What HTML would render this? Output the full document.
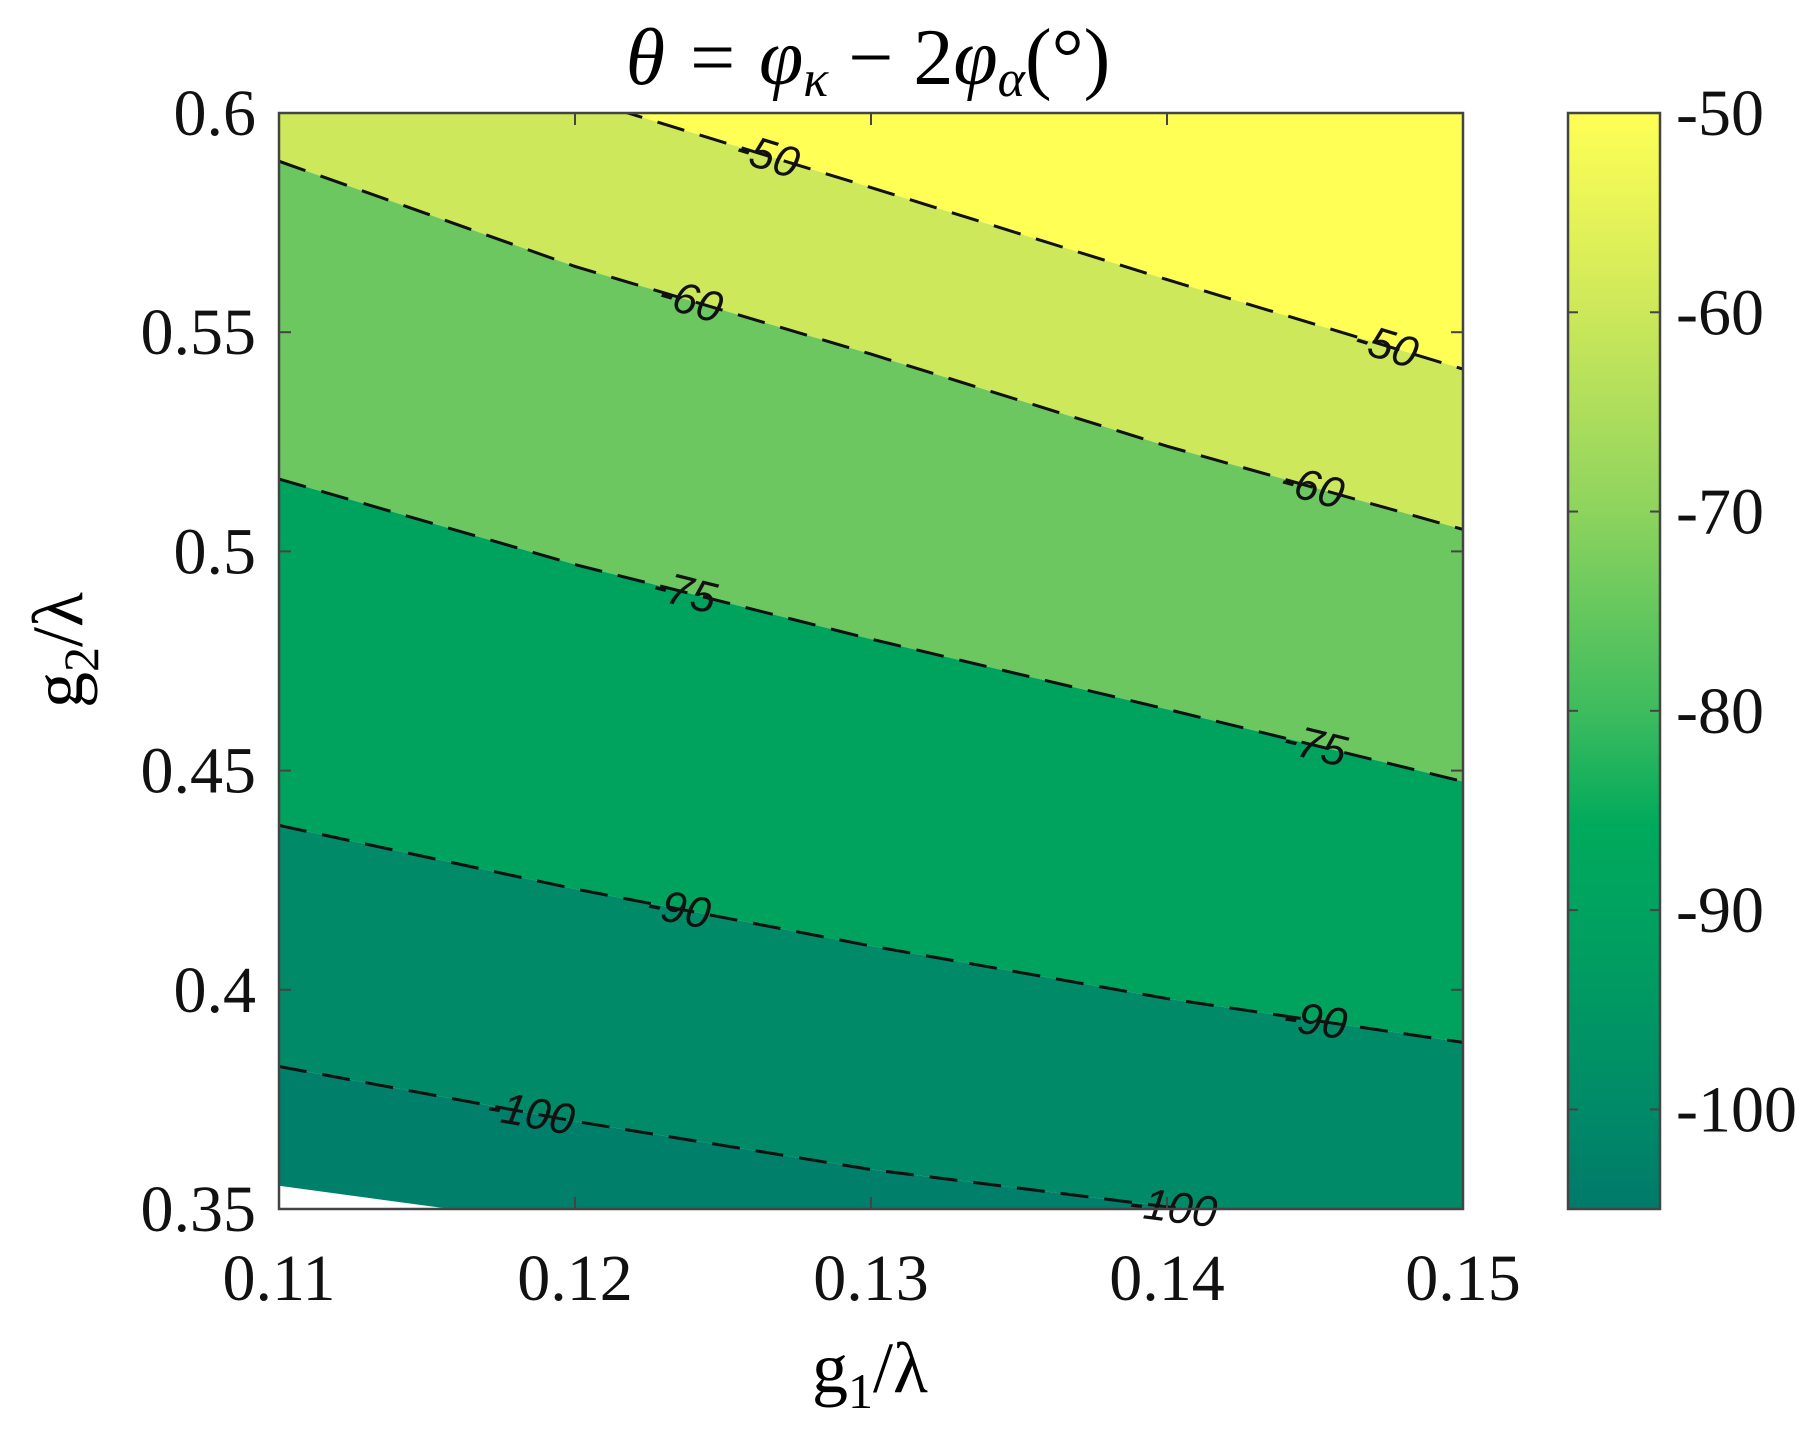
<!DOCTYPE html>
<html><head><meta charset="utf-8"><style>
html,body{margin:0;padding:0;background:#fff;}
svg{display:block;}
text{font-family:"Liberation Serif",serif;}
</style></head><body>
<svg id="chart" width="1813" height="1440" viewBox="0 0 1813 1440">
<defs>
<clipPath id="plotclip"><rect x="279" y="113" width="1184" height="1096"/></clipPath>
<linearGradient id="cbgrad" x1="0" y1="0" x2="0" y2="1">
<stop offset="0" stop-color="#ffff55"/>
<stop offset="0.18" stop-color="#cde85a"/>
<stop offset="0.36" stop-color="#8fd45e"/>
<stop offset="0.55" stop-color="#3cbb5e"/>
<stop offset="0.65" stop-color="#00aa5c"/>
<stop offset="0.75" stop-color="#00a060"/>
<stop offset="0.91" stop-color="#008a68"/>
<stop offset="1" stop-color="#007a6a"/>
</linearGradient>
</defs>
<g id="fills" clip-path="url(#plotclip)"></g>
<g id="lines" clip-path="url(#plotclip)"></g>
<g id="labels"></g>
<g id="axes"></g>
</svg>
<script>
const g1Grid = [0.11, 0.12, 0.13, 0.14, 0.15];
const levels = [-50, -60, -75, -90, -100];
const c50 = [0.6245, 0.6037, 0.583, 0.562, 0.5416];
const c60 = [0.589, 0.565, 0.545, 0.524, 0.505];
const c75 = [0.5165, 0.497, 0.480, 0.464, 0.4475];
const c90 = [0.4375, 0.423, 0.410, 0.398, 0.388];
const c100 = [0.3825, 0.370, 0.359, 0.3505, 0.342];
const boundaryG1 = [0.11, 0.1158];
const boundaryG2 = [0.3553, 0.35];
const regionColors = ['#ffff55', '#cde85a', '#6cc760', '#00a35e', '#008a68', '#00806a'];
const xTicks = [0.11, 0.12, 0.13, 0.14, 0.15];
const xTickLabels = ['0.11', '0.12', '0.13', '0.14', '0.15'];
const yTicks = [0.35, 0.4, 0.45, 0.5, 0.55, 0.6];
const yTickLabels = ['0.35', '0.4', '0.45', '0.5', '0.55', '0.6'];
const cbTicks = [-50, -60, -70, -80, -90, -100];
const cbTickLabels = ['-50', '-60', '-70', '-80', '-90', '-100'];
const labelG1 = [[0.1265, 0.1474], [0.1239, 0.1449], [0.1237, 0.145], [0.1235, 0.145], [0.1185, 0.1402]];

const X0 = 279, X1 = 1463, Y0 = 1209, Y1 = 113;
const xs = v => X0 + (v - 0.11) / 0.04 * (X1 - X0);
const ys = v => Y0 - (v - 0.35) / 0.25 * (Y0 - Y1);
const CB_X0 = 1568, CB_X1 = 1660;
const cbs = v => Y1 + (-50 - v) / 55 * (Y0 - Y1);
const NS = 'http://www.w3.org/2000/svg';
const contours = [c50, c60, c75, c90, c100];
function mk(tag, attrs, parent) {
  const e = document.createElementNS(NS, tag);
  for (const k in attrs) e.setAttribute(k, attrs[k]);
  parent.appendChild(e);
  return e;
}
function interp(arr, g) {
  for (let i = 0; i < g1Grid.length - 1; i++) {
    if (g <= g1Grid[i + 1]) {
      const t = (g - g1Grid[i]) / (g1Grid[i + 1] - g1Grid[i]);
      return arr[i] + t * (arr[i + 1] - arr[i]);
    }
  }
  return arr[arr.length - 1];
}
const pts = arr => g1Grid.map((g, i) => xs(g) + ',' + ys(arr[i]));
const fills = document.getElementById('fills');
const lines = document.getElementById('lines');
const labels = document.getElementById('labels');
const axes = document.getElementById('axes');

const botEdge = [xs(0.15) + ',' + (Y0 + 50), xs(0.11) + ',' + (Y0 + 50)];
for (let r = 0; r <= contours.length; r++) {
  const upper = r === 0 ? null : contours[r - 1];
  const lower = r === contours.length ? null : contours[r];
  let p = [];
  p = p.concat(upper ? pts(upper) : [xs(0.11) + ',' + (Y1 - 50), xs(0.15) + ',' + (Y1 - 50)]);
  p = p.concat(lower ? pts(lower).reverse() : botEdge);
  const poly = mk('polygon', {points: p.join(' '), fill: regionColors[r]}, fills);
  
  
}
const nd = mk('polygon', {points: [xs(boundaryG1[0]) + ',' + ys(boundaryG2[0]), xs(boundaryG1[1]) + ',' + ys(boundaryG2[1]), xs(0.11) + ',' + Y0].join(' '), fill: '#ffffff'}, fills);



contours.forEach((c, i) => {
  const pl = mk('polyline', {points: pts(c).join(' '), fill: 'none', stroke: '#111', 'stroke-width': 3, 'stroke-dasharray': '28,16'}, lines);
  
  
  labelG1[i].forEach((g, j) => {
    const x = xs(g), y = ys(interp(c, g));
    const y2 = ys(interp(c, g + 0.002));
    const ang = Math.atan2(y2 - y, xs(g + 0.002) - x) * 180 / Math.PI;
    const t = mk('text', {x: x, y: y, 'text-anchor': 'middle', 'dominant-baseline': 'central', 'font-size': 44, transform: 'rotate(' + ang + ' ' + x + ' ' + y + ')', fill: '#111', style: 'font-family:"Liberation Sans",sans-serif;font-style:italic'}, labels);
    t.textContent = levels[i];
    
    
  });
});

const fr = mk('rect', {x: X0, y: Y1, width: X1 - X0, height: Y0 - Y1, fill: 'none', stroke: '#444', 'stroke-width': 2.5}, axes);


xTicks.forEach((v, i) => {
  const x = xs(v);
  mk('line', {x1: x, y1: Y0, x2: x, y2: Y0 - 12, stroke: '#444', 'stroke-width': 2}, axes);
  mk('line', {x1: x, y1: Y1, x2: x, y2: Y1 + 12, stroke: '#444', 'stroke-width': 2}, axes);
  const t = mk('text', {x: x, y: 1300, 'text-anchor': 'middle', 'font-size': 66, fill: '#111'}, axes);
  t.textContent = xTickLabels[i];
  
  
});
yTicks.forEach((v, i) => {
  const y = ys(v);
  mk('line', {x1: X0, y1: y, x2: X0 + 12, y2: y, stroke: '#444', 'stroke-width': 2}, axes);
  mk('line', {x1: X1, y1: y, x2: X1 - 12, y2: y, stroke: '#444', 'stroke-width': 2}, axes);
  const t = mk('text', {x: 256, y: y + 22, 'text-anchor': 'end', 'font-size': 66, fill: '#111'}, axes);
  t.textContent = yTickLabels[i];
  
  
});
const cb = mk('rect', {x: CB_X0, y: Y1, width: CB_X1 - CB_X0, height: Y0 - Y1, fill: 'url(#cbgrad)', stroke: '#444', 'stroke-width': 2.5}, axes);


cbTicks.forEach((v, i) => {
  const y = cbs(v);
  mk('line', {x1: CB_X1, y1: y, x2: CB_X1 - 10, y2: y, stroke: '#444', 'stroke-width': 2}, axes);
  mk('line', {x1: CB_X0, y1: y, x2: CB_X0 + 10, y2: y, stroke: '#444', 'stroke-width': 2}, axes);
  const t = mk('text', {x: 1676, y: y + 22, 'text-anchor': 'start', 'font-size': 66, fill: '#111'}, axes);
  t.textContent = cbTickLabels[i];
  
  
});
</script>
<svg style="position:absolute;left:0;top:0" width="1813" height="1440">
<text x="868" y="84" text-anchor="middle" font-size="80" font-style="italic" style="font-family:'Liberation Serif',serif">θ = φ<tspan font-size="52" dy="12">κ</tspan><tspan dy="-12" font-style="normal"> − 2</tspan>φ<tspan font-size="52" dy="12">α</tspan><tspan dy="-12" font-style="normal">(°)</tspan></text>
<text x="870" y="1392" text-anchor="middle" font-size="72" style="font-family:'Liberation Serif',serif">g<tspan font-size="50" dy="16">1</tspan><tspan dy="-16">/λ</tspan></text>
<text x="0" y="0" transform="translate(82,650) rotate(-90)" text-anchor="middle" font-size="72" style="font-family:'Liberation Serif',serif">g<tspan font-size="50" dy="16">2</tspan><tspan dy="-16">/λ</tspan></text>
</svg>
</body></html>
